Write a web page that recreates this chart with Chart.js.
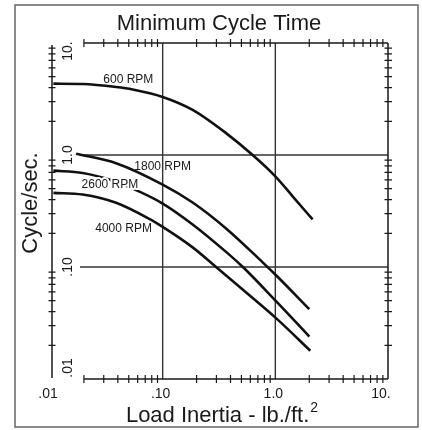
<!DOCTYPE html>
<html>
<head>
<meta charset="utf-8">
<script src="https://cdn.jsdelivr.net/npm/chart.js@4.4.0/dist/chart.umd.min.js"></script>
<style>
  html, body { margin: 0; padding: 0; background: #fff; }
  canvas { display: block; }
</style>
</head>
<body>
<canvas id="chart" width="422" height="430"></canvas>
<script>
// values (log-log)
const speeds = ['600 RPM', '1800 RPM', '2600 RPM', '4000 RPM'];

const inertia600 = [0.01072, 0.0195, 0.0386, 0.0542, 0.1, 0.1845, 0.3652, 0.6289, 1.0, 1.424, 2.143];
const cycles600  = [4.335, 4.308, 4.052, 3.85, 3.302, 2.53, 1.569, 1.0, 0.645, 0.428, 0.2657];

const inertia1800 = [0.01704, 0.0386, 0.1, 0.1845, 0.3652, 0.7716, 1.0144, 2.003];
const cycles1800  = [1.027, 0.8453, 0.5442, 0.3764, 0.221, 0.1101, 0.0844, 0.042];

const inertia2600 = [0.01072, 0.0195, 0.03365, 0.05243, 0.1, 0.1845, 0.3652, 0.5127, 1.0144, 2.003];
const cycles2600  = [0.725, 0.6916, 0.6029, 0.5085, 0.3688, 0.2399, 0.1365, 0.1004, 0.04953, 0.02393];

const inertia4000 = [0.01072, 0.0195, 0.0386, 0.07621, 0.1, 0.1845, 0.2978, 0.5096, 1.0144, 2.044];
const cycles4000  = [0.459, 0.4433, 0.3741, 0.2685, 0.2279, 0.1496, 0.1, 0.0633, 0.03496, 0.01789];

const tickValues = [0.01, 0.1, 1, 10];
const tickLabels = ['.01', '.10', '1.0', '10.'];
const gridValues = [0.1, 1];
const minorSteps = [2, 3, 4, 5, 6, 7, 8, 9];

const FONT = "'Liberation Sans', Arial, sans-serif";
const INK = '#1a1a1a';

const toPoints = (xs, ys) => xs.map((v, i) => ({ x: v, y: ys[i] }));

// where the curve names sit, in data units
const curveLabels = [
    { text: speeds[0], x: 0.0496, y: 4.75, halo: false },
    { text: speeds[1], x: 0.1, y: 0.787, halo: false },
    { text: speeds[2], x: 0.034, y: 0.548, halo: true },
    { text: speeds[3], x: 0.045, y: 0.218, halo: false }
];

const framePlugin = {
    id: 'frame',
    beforeDatasetsDraw(chart) {
        const { ctx, chartArea: a, scales: { x, y } } = chart;
        ctx.save();

        // outer box
        ctx.strokeStyle = '#666';
        ctx.lineWidth = 1.5;
        ctx.strokeRect(15, 5, 403, 422);

        // grid lines
        ctx.strokeStyle = '#333';
        ctx.lineWidth = 1.4;
        gridValues.forEach(v => {
            const px = x.getPixelForValue(v);
            ctx.beginPath(); ctx.moveTo(px, a.top); ctx.lineTo(px, a.bottom); ctx.stroke();
            const py = y.getPixelForValue(v);
            ctx.beginPath(); ctx.moveTo(a.left + 30, py); ctx.lineTo(a.right, py); ctx.stroke();
        });

        // axis lines
        const leftX = a.left + 2;
        const startX = x.getPixelForValue(0.02);
        ctx.strokeStyle = INK;
        ctx.lineWidth = 1.5;
        ctx.beginPath();
        ctx.moveTo(leftX, a.top + 2); ctx.lineTo(leftX, a.bottom - 1);
        ctx.moveTo(startX, a.bottom); ctx.lineTo(a.right, a.bottom);
        ctx.moveTo(startX, a.top); ctx.lineTo(a.right, a.top);
        ctx.moveTo(a.right, a.top); ctx.lineTo(a.right, a.bottom);
        ctx.stroke();

        // minor ticks, crossing the axes
        ctx.lineWidth = 1.2;
        ctx.beginPath();
        tickValues.slice(0, 3).forEach(d => {
            minorSteps.forEach(k => {
                const v = d * k;
                const py = y.getPixelForValue(v);
                ctx.moveTo(leftX - 3.5, py); ctx.lineTo(leftX + 3.5, py);
                ctx.moveTo(a.right - 3.5, py); ctx.lineTo(a.right + 4, py);
                if (v >= 0.02) {
                    const px = x.getPixelForValue(v);
                    ctx.moveTo(px, a.bottom - 4); ctx.lineTo(px, a.bottom + 4);
                    ctx.moveTo(px, a.top - 4); ctx.lineTo(px, a.top + 4);
                }
            });
        });
        ctx.stroke();

        // tick labels
        ctx.fillStyle = INK;
        ctx.font = `14px ${FONT}`;
        ctx.textAlign = 'center';
        ctx.textBaseline = 'alphabetic';
        tickValues.forEach((v, i) => {
            const px = Math.min(x.getPixelForValue(v) - 2, a.right - 7);
            ctx.fillText(tickLabels[i], px, a.bottom + 19);
            const py = Math.max(a.top + 8, Math.min(y.getPixelForValue(v), a.bottom - 11));
            ctx.save();
            ctx.translate(a.left + 22, py);
            ctx.rotate(-Math.PI / 2);
            ctx.fillText(tickLabels[i], 0, 0);
            ctx.restore();
        });

        // axis titles
        ctx.font = `22px ${FONT}`;
        ctx.save();
        ctx.translate(37, 203);
        ctx.rotate(-Math.PI / 2);
        ctx.fillText('Cycle/sec.', 0, 0);
        ctx.restore();

        const main = 'Load Inertia - lb./ft.';
        const w1 = ctx.measureText(main).width;
        ctx.font = `14px ${FONT}`;
        const w2 = ctx.measureText('2').width;
        const start = 222 - (w1 + w2 + 1) / 2;
        ctx.textAlign = 'left';
        ctx.fillText('2', start + w1 + 1, 412);
        ctx.font = `22px ${FONT}`;
        ctx.fillText(main, start, 422);

        ctx.restore();
    },
    afterDatasetsDraw(chart) {
        const { ctx, scales: { x, y } } = chart;
        ctx.save();
        ctx.font = `12px ${FONT}`;
        ctx.textAlign = 'center';
        ctx.textBaseline = 'middle';
        curveLabels.forEach(l => {
            const px = x.getPixelForValue(l.x);
            const py = y.getPixelForValue(l.y);
            if (l.halo) {
                ctx.strokeStyle = '#fff';
                ctx.lineWidth = 4;
                ctx.lineJoin = 'round';
                ctx.strokeText(l.text, px, py);
            }
            ctx.fillStyle = INK;
            ctx.fillText(l.text, px, py);
        });
        ctx.restore();
    }
};

const series = [
    toPoints(inertia600, cycles600),
    toPoints(inertia1800, cycles1800),
    toPoints(inertia2600, cycles2600),
    toPoints(inertia4000, cycles4000)
];

new Chart(document.getElementById('chart'), {
    type: 'line',
    data: {
        datasets: series.map((pts, i) => ({
            label: speeds[i],
            data: pts,
            borderColor: '#111',
            borderWidth: 2.6,
            pointRadius: 0,
            fill: false,
            cubicInterpolationMode: 'monotone'
        }))
    },
    options: {
        responsive: false,
        animation: false,
        events: [],
        layout: { padding: { left: 50, right: 34, top: 0, bottom: 51 } },
        plugins: {
            legend: { display: false },
            tooltip: { enabled: false },
            title: {
                display: true,
                text: 'Minimum Cycle Time',
                color: INK,
                font: { family: FONT, size: 22, weight: 'normal' },
                padding: { top: 11, bottom: 5.6 }
            }
        },
        scales: {
            x: { type: 'logarithmic', min: 0.01, max: 10, display: false },
            y: { type: 'logarithmic', min: 0.01, max: 10, display: false }
        }
    },
    plugins: [framePlugin]
});
</script>
</body>
</html>
